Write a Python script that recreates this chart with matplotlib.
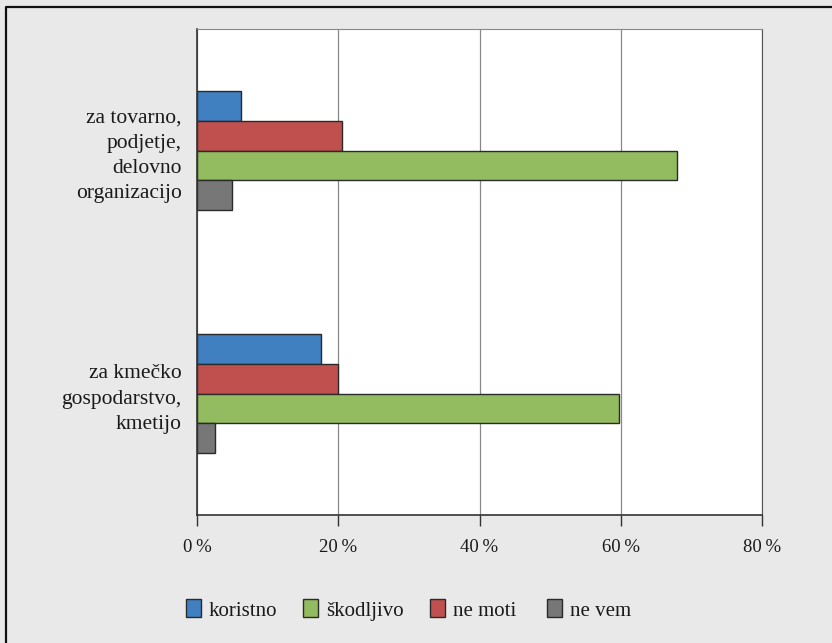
import matplotlib
matplotlib.use("Agg")
import matplotlib.pyplot as plt
import numpy as np
from matplotlib.lines import Line2D

# podatki, odčitani s slike (v %)
categories = ["za tovarno,\npodjetje,\ndelovno\norganizacijo",
              "za kmečko\ngospodarstvo,\nkmetijo"]
series_names = ["koristno", "ne moti", "škodljivo", "ne vem"]
koristno = [6.2, 17.5]
ne_moti = [20.6, 19.9]
skodljivo = [68.0, 59.8]
ne_vem = [4.9, 2.6]
x_ticks = [0, 20, 40, 60, 80]

colors = {"koristno": "#4080C0", "ne moti": "#C0504D",
          "škodljivo": "#93BB5F", "ne vem": "#777777"}

plt.rcParams['font.family'] = ['Liberation Serif', 'DejaVu Serif']

fig = plt.figure(figsize=(8.32, 6.43), dpi=100, facecolor="#E9E9E9")
ax = fig.add_axes([197 / 832, 1 - 515 / 643, 565 / 832, 486 / 643])

# okvir slike (viden le levo in zgoraj)
fx, fy = 5.5 / 832, 1 - 7 / 643
fig.lines.append(Line2D([fx, fx, 1.0], [0.0, fy, fy], transform=fig.transFigure,
                        color="#111111", linewidth=1.6))

y = np.arange(len(categories))
h = 0.1215
values = [koristno, ne_moti, skodljivo, ne_vem]
offsets = [-1.5 * h, -0.5 * h, 0.5 * h, 1.5 * h]
handles = {}
for name, vals, off in zip(series_names, values, offsets):
    handles[name] = ax.barh(y + off, vals, height=h, color=colors[name],
                            edgecolor="#2a2a2a", linewidth=1.0, label=name)

ax.set_xlim(0, 80)
ax.set_ylim(1.5, -0.5)
ax.set_xticks(x_ticks)
ax.set_xticklabels([f"{t}\u2009%" for t in x_ticks], fontsize=13.5, color="#1a1a1a")
ax.set_yticks(y)
ax.set_yticklabels(categories, fontsize=15.5, color="#1a1a1a", linespacing=1.43)
ax.tick_params(axis="y", length=0, pad=11)
ax.tick_params(axis="x", length=8, width=1, color="#333333", pad=9, direction="out")

ax.grid(axis="x", color="#888888", linewidth=0.9)
ax.set_axisbelow(True)
for side in ["left", "bottom"]:
    ax.spines[side].set_color("#333333")
    ax.spines[side].set_linewidth(1.2)
ax.spines["right"].set_color("#555555")
ax.spines["top"].set_color("#888888")

# legenda: vsak vnos posebej, kot na izvirniku
order = ["koristno", "škodljivo", "ne moti", "ne vem"]
legend_x = [186, 303, 430, 547]
for name, lx in zip(order, legend_x):
    fig.legend([handles[name]], [name], loc="center left",
               bbox_to_anchor=(lx / 832, 1 - 610 / 643), frameon=False,
               fontsize=15, handlelength=0.7, handleheight=0.95,
               handletextpad=0.4, borderpad=0, borderaxespad=0,
               labelcolor="#1a1a1a")

fig.savefig("out.png", dpi=100, facecolor=fig.get_facecolor())
